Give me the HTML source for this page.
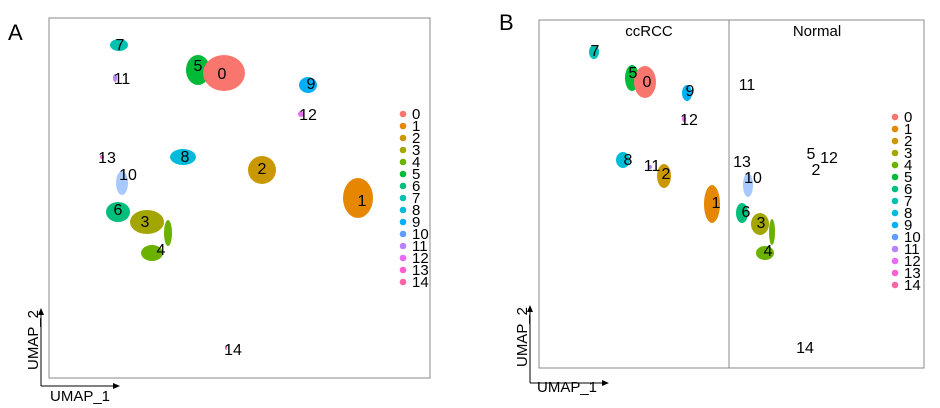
<!DOCTYPE html>
<html><head><meta charset="utf-8"><style>
html,body{margin:0;padding:0;background:#fff}
svg{display:block;font-family:"Liberation Sans",sans-serif}
</style></head><body>
<svg id="fig" width="940" height="408" viewBox="0 0 940 408">
<text x="8" y="40" font-size="22">A</text>
<text x="499" y="30" font-size="22">B</text>
<rect x="49" y="18" width="381" height="360" fill="none" stroke="#888" stroke-width="1"/>
<rect x="539" y="20" width="385" height="348" fill="none" stroke="#888" stroke-width="1"/>
<line x1="729" y1="20" x2="729" y2="368" stroke="#888"/>
<text x="649" y="36" font-size="15" text-anchor="middle">ccRCC</text>
<text x="817" y="36" font-size="15" text-anchor="middle">Normal</text>
<g id="gA"></g>
<g id="gB"></g>
<g>
<line x1="41" y1="386" x2="41" y2="312" stroke="#000"/><path d="M38,315 L41,308 L44,315Z"/>
<line x1="41" y1="386" x2="115" y2="386" stroke="#000"/><path d="M113,383 L120,386 L113,389Z"/>
<text x="38" y="340" font-size="15" text-anchor="middle" transform="rotate(-90 38 340)">UMAP_2</text>
<text x="50" y="401" font-size="15">UMAP_1</text>
</g>
<g>
<line x1="530" y1="383" x2="530" y2="309" stroke="#000"/><path d="M527,312 L530,305 L533,312Z"/>
<line x1="530" y1="383" x2="604" y2="383" stroke="#000"/><path d="M602,380 L609,383 L602,386Z"/>
<text x="527" y="337" font-size="15" text-anchor="middle" transform="rotate(-90 527 337)">UMAP_2</text>
<text x="537" y="392" font-size="15">UMAP_1</text>
</g>
<g id="legA"></g>
<g id="legB"></g>
</svg>
<script>
const clusterIds = [0,1,2,3,4,5,6,7,8,9,10,11,12,13,14];
const clusterColors = ["#F8766D","#E58700","#C99800","#A3A500","#6BB100","#00BA38","#00BF7D","#00C0AF","#00BCD8","#00B0F6","#619CFF","#B983FF","#E76BF3","#FD61D1","#FF67A4"];
// Panel A: cluster id, UMAP x, UMAP y, spread x, spread y (some clusters have two lobes)
const aId = [5,0,7,9,12,11,8,2,1,10,6,3,4,4,13,14];
const aX  = [149,175,70,259,252,66,134,213,309,73,69,98,103,119,53,177];
const aY  = [50,53,25,65,94,58,137,150,178,163,192,202,233,213,137,328];
const aSx = [12,21,9,9,3,2,13,14,15,6,12,17,11,4,2,1];
const aSy = [15,18,6,8,3,4,8,14,20,12,10,12,8,13,2,2];
const aLabId = [0,5,7,11,9,12,8,2,1,13,10,6,3,4,14];
const aLabX = [173,149,71,73,262,259,136,213,313,58,79,69,96,112,184];
const aLabY = [53,45,24,58,63,94,136,148,180,137,154,189,201,229,329];
// Panel B
const bId = [7,5,0,9,12,8,2,11,1,10,6,3,4,4];
const bX  = [55,93,106,148,145,84,125,111,173,209,203,221,226,233];
const bY  = [32,58,62,73,99,140,156,147,184,165,193,204,233,212];
const bSx = [5,7,11,5,2,7,7,2,8,5,6,9,9,3];
const bSy = [7,13,16,8,3,8,12,2,19,12,10,11,7,13];
const bLabText = ["7","5","0","9","12","8","11","2","1","13","10","6","3","4","11","5","12","2","14"];
const bLabX = [56,94,108,151,150,89,113,127,177,203,214,207,222,229,208,272,290,277,266];
const bLabY = [30,52,61,70,99,139,145,153,182,141,157,191,202,230,64,133,137,149,327];

const NS="http://www.w3.org/2000/svg";
function mk(t,a){const e=document.createElementNS(NS,t);for(const k in a)e.setAttribute(k,a[k]);return e;}
function xsA(v){return 49+v;} function ysA(v){return 20+v;}
function xsB(v){return 539+v;} function ysB(v){return 20+v;}
const gA=document.getElementById('gA'), gB=document.getElementById('gB');
function drawClusters(g,ids,xs,ys,sx,sy,fx,fy,p){
  for(let i=0;i<ids.length;i++){
    const e=mk('ellipse',{cx:fx(xs[i]),cy:fy(ys[i]),rx:sx[i],ry:sy[i],fill:clusterColors[ids[i]],opacity:ids[i]===10?0.55:1});
    
    
    g.appendChild(e);
  }
}
drawClusters(gA,aId,aX,aY,aSx,aSy,xsA,ysA,'panel-a');
drawClusters(gB,bId,bX,bY,bSx,bSy,xsB,ysB,'panel-b');
for(let i=0;i<aLabId.length;i++){
  const t=mk('text',{x:xsA(aLabX[i]),y:ysA(aLabY[i])+6,'font-size':16,'text-anchor':'middle'});
  t.textContent=String(aLabId[i]);
  
  
  gA.appendChild(t);
}
for(let i=0;i<bLabText.length;i++){
  const t=mk('text',{x:xsB(bLabX[i]),y:ysB(bLabY[i])+6,'font-size':16,'text-anchor':'middle'});
  t.textContent=bLabText[i];
  
  
  gB.appendChild(t);
}
function legend(g,x,y0,step){
  clusterIds.forEach((c,i)=>{
    const d=mk('circle',{cx:x,cy:y0+i*step,r:3.3,fill:clusterColors[c]});
    
    
    g.appendChild(d);
    const t=mk('text',{x:x+9,y:y0+i*step+5,'font-size':15});
    t.textContent=String(c);
    
    
    g.appendChild(t);
  });
}
legend(document.getElementById('legA'),403,114,12);
legend(document.getElementById('legB'),895,117,12);
</script>
</body></html>
